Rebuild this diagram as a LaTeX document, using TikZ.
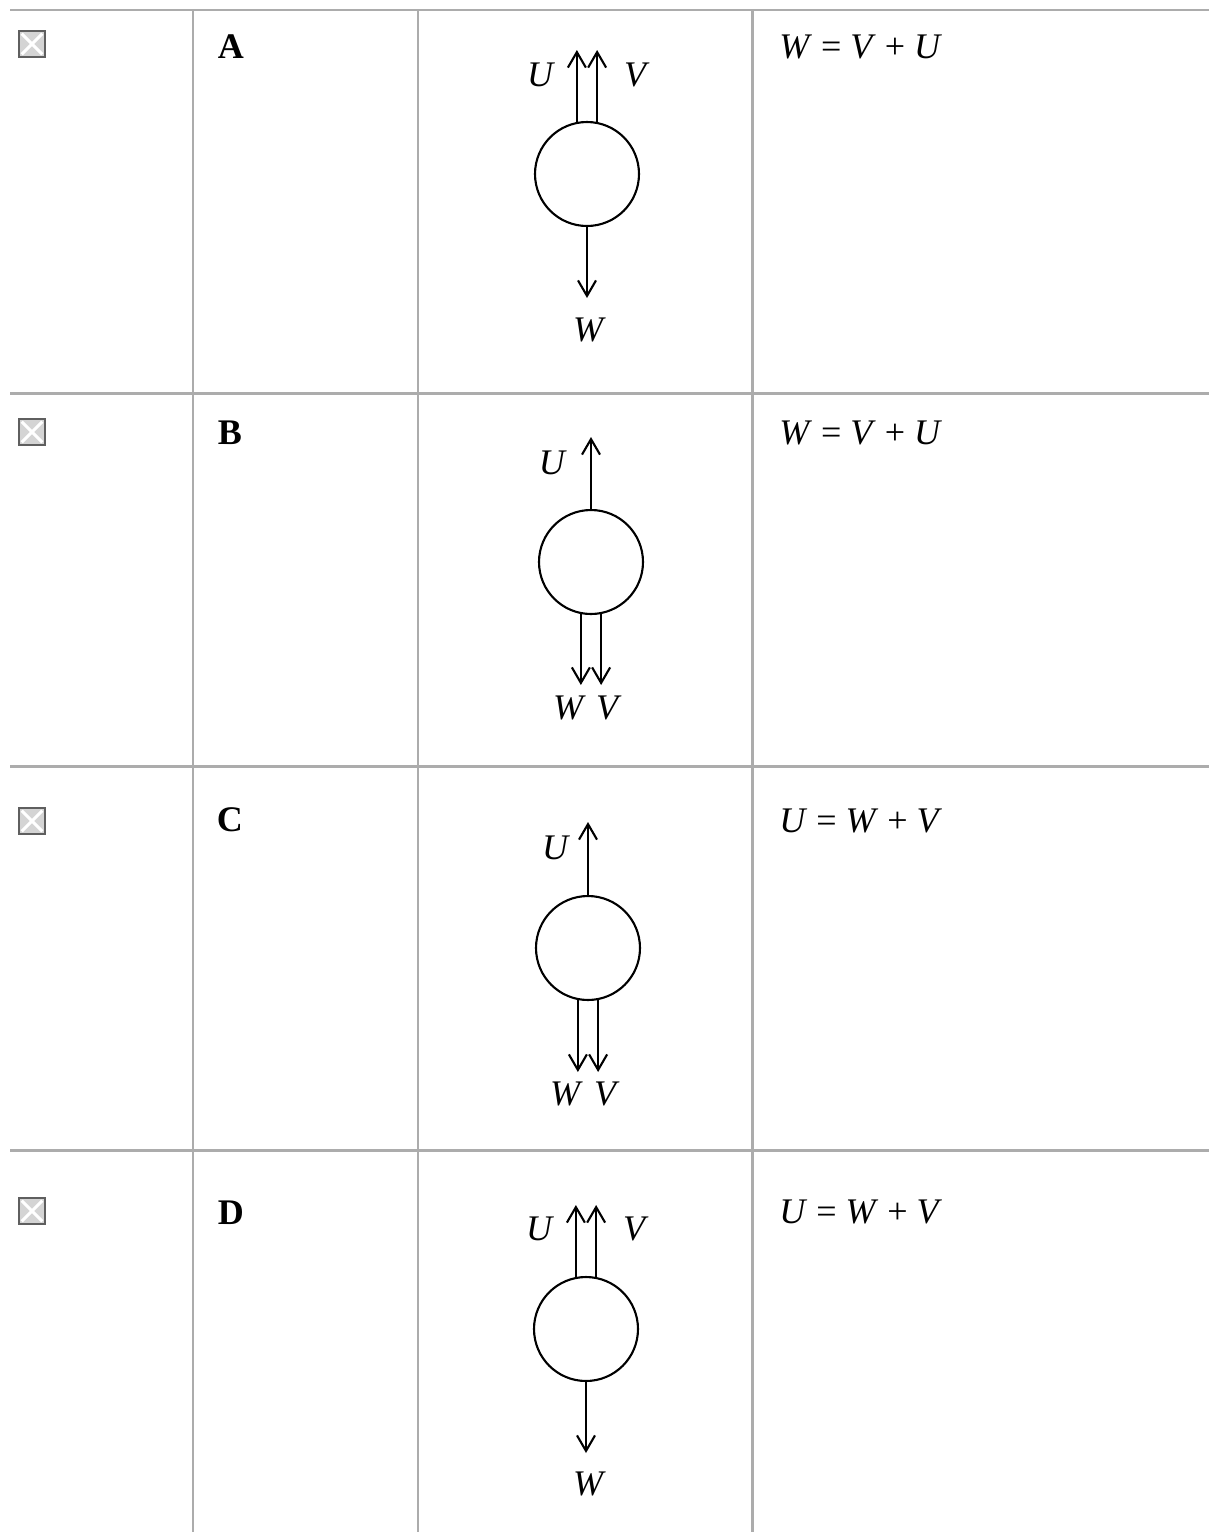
\documentclass[tikz,border=0pt]{standalone}
\usepackage{fontspec}
\setmainfont{Liberation Serif}
\usepackage{tikz}
\usetikzlibrary{positioning,calc,arrows.meta}
\definecolor{rulegray}{RGB}{172,172,172}
\definecolor{boxgray}{RGB}{212,212,212}
\definecolor{boxedge}{RGB}{95,95,95}

\begin{document}
\begin{tikzpicture}[x=0.02cm, y=-0.02cm, >={Straight Barb[length=3.1mm, width=3.6mm]}, body/.style = {circle, draw, line width=1.2pt, minimum size=2.08cm, inner sep=0pt}, every edge/.append style={->, line width=1.2pt}, lbl/.style={font=\fontsize{20.5}{24}\selectfont\itshape, inner sep=0pt}, letter/.style={font=\fontsize{20.5}{24}\selectfont\bfseries, inner sep=0pt}, eqn/.style={font=\fontsize{20.5}{24}\selectfont, inner sep=0pt, anchor=west}, rule/.style={draw=rulegray, line width=1.7pt}, checkbox/.style={draw=boxedge, fill=boxgray, line width=1pt, minimum size=0.52cm, inner sep=0pt, path picture={\draw[white, line width=1.7pt] ([shift={(1.5pt,1.5pt)}]path picture bounding box.south west) -- ([shift={(-1.5pt,-1.5pt)}]path picture bounding box.north east) ([shift={(1.5pt,-1.5pt)}]path picture bounding box.north west) -- ([shift={(-1.5pt,1.5pt)}]path picture bounding box.south east);}}]

\useasboundingbox (0,0) rectangle (1209,1532);

% table rules
\foreach \y in {10,393,766,1150} \draw[rule] (10,\y) -- (1209,\y);
\foreach \x in {193,418,752} \draw[rule] (\x,10) -- (\x,1532);

% row A
\node[checkbox] (boxA) at (32,44) {};
\node[letter] (A) at (231,47) {A};
\node[body] (cA) at (587,174) {};
\coordinate (tA) at (587,50);
\coordinate (bA) at (587,298);
\node[lbl] (uA) at (540,75) {U};
\node[lbl] (vA) at (635,75) {V};
\node[lbl] (wA) at (588,330) {W};
\node[eqn] (eA) at (779,47) {\textit{W}~=~\textit{V}~+~\textit{U}};

\path
    (cA.101) edge (cA.101 |- tA)
    (cA.79) edge (cA.79 |- tA)
    (cA.south) edge (bA);

% row B
\node[checkbox] (boxB) at (32,432) {};
\node[letter] (B) at (230,433) {B};
\node[body] (cB) at (591,562) {};
\coordinate (tB) at (591,437);
\coordinate (bB) at (591,685);
\node[lbl] (uB) at (552,463) {U};
\node[lbl] (wB) at (568,708) {W};
\node[lbl] (vB) at (607,708) {V};
\node[eqn] (eB) at (779,433) {\textit{W}~=~\textit{V}~+~\textit{U}};

\path
    (cB.north) edge (tB)
    (cB.259) edge (cB.259 |- bB)
    (cB.281) edge (cB.281 |- bB);

% row C
\node[checkbox] (boxC) at (32,821) {};
\node[letter] (C) at (230,820) {C};
\node[body] (cC) at (588,948) {};
\coordinate (tC) at (588,822);
\coordinate (bC) at (588,1072);
\node[lbl] (uC) at (555,848) {U};
\node[lbl] (wC) at (565,1094) {W};
\node[lbl] (vC) at (605,1094) {V};
\node[eqn] (eC) at (779,821) {\textit{U}~=~\textit{W}~+~\textit{V}};

\path
    (cC.north) edge (tC)
    (cC.259) edge (cC.259 |- bC)
    (cC.281) edge (cC.281 |- bC);

% row D
\node[checkbox] (boxD) at (32,1211) {};
\node[letter] (D) at (231,1213) {D};
\node[body] (cD) at (586,1329) {};
\coordinate (tD) at (586,1205);
\coordinate (bD) at (586,1453);
\node[lbl] (uD) at (539,1229) {U};
\node[lbl] (vD) at (634,1229) {V};
\node[lbl] (wD) at (588,1484) {W};
\node[eqn] (eD) at (779,1212) {\textit{U}~=~\textit{W}~+~\textit{V}};

\path
    (cD.101) edge (cD.101 |- tD)
    (cD.79) edge (cD.79 |- tD)
    (cD.south) edge (bD);
\end{tikzpicture}
\end{document}
